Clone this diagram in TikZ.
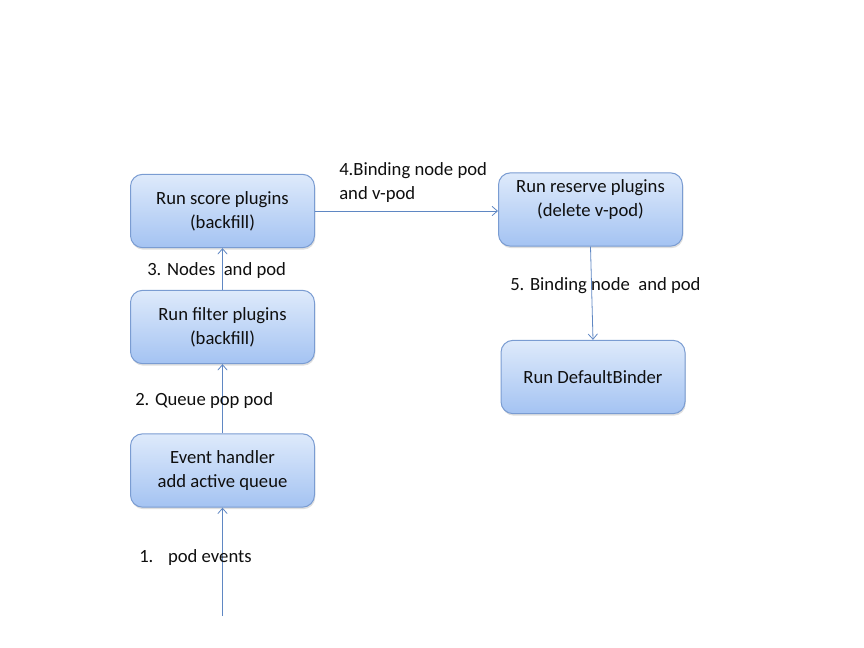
\documentclass[tikz,border=0pt]{standalone}
\usepackage{fontspec}
\setmainfont{Carlito}
\usepackage{tikz}
\usetikzlibrary{arrows.meta,shadows}

\definecolor{boxtop}{RGB}{222,234,251}
\definecolor{boxbot}{RGB}{164,195,242}
\definecolor{boxline}{RGB}{122,156,210}
\definecolor{flowline}{RGB}{95,135,195}
\definecolor{txt}{RGB}{15,15,15}

\begin{document}
\begin{tikzpicture}[x=0.75pt, y=-0.75pt, every node/.style={text=txt, font=\fontsize{14}{18}\selectfont},
  stage/.style={draw=boxline, line width=0.75pt, rounded corners=9pt, top color=boxtop, bottom color=boxbot,
    minimum width=138pt, minimum height=55pt, inner sep=0pt, align=center,
    drop shadow={shadow xshift=0.6pt, shadow yshift=-1.5pt, opacity=0.25}},
  flow/.style={draw=flowline, line width=0.6pt, -{Straight Barb[length=4pt, width=7pt]}},
  lbl/.style={anchor=west, inner sep=0pt, align=left}]

\useasboundingbox (0,0) rectangle (864,647);

% stages
\node[stage] (score) at (222.5,211) {Run score plugins\\(backfill)};
\node[stage] (filter) at (222.5,327) {Run filter plugins\\(backfill)};
\node[stage] (event) at (222.5,470.5) {Event handler\\add active queue};
\node[stage, text depth=17pt] (reserve) at (590.5,209.5) {Run reserve plugins\\(delete v-pod)};
\node[stage] (binder) at (593,377) {Run DefaultBinder};

% flow
\coordinate (podin) at (222.5,616);
\draw[flow] (podin) -- (event.south);
\draw[flow] (event.north) -- (filter.south);
\draw[flow] (filter.north) -- (score.south);
\draw[flow] (score.east |- 0,211) -- (reserve.west |- 0,211);
\draw[flow] (reserve.south) -- (binder.north);

% step labels
\node[lbl] (l1) at (139,558) {1.\hspace{11pt}pod events};
\node[lbl] (l2) at (135,401) {2. Queue pop pod};
\node[lbl] (l3) at (147,271) {3. Nodes\ \ and pod};
\node[lbl] (l4) at (339,183) {4.Binding node pod\\and v-pod};
\node[lbl] (l5) at (510,286) {5. Binding node\ \ and pod};
\end{tikzpicture}
\end{document}
